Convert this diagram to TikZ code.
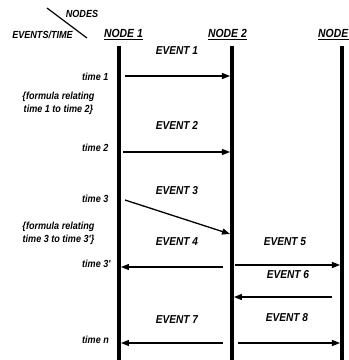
\documentclass[tikz,border=0pt]{standalone}
\usepackage{fontspec}
\setmainfont{Liberation Sans}
\newfontfamily\narrowsans[FakeStretch=0.88]{Liberation Sans}
\usetikzlibrary{arrows.meta}
\begin{document}
\begin{tikzpicture}[x=1pt,y=-1pt,
  lbl/.style={font=\narrowsans\bfseries\itshape\fontsize{11.5}{13}\selectfont, inner sep=0pt},
  hdr/.style={font=\narrowsans\bfseries\itshape\fontsize{11.8}{13}\selectfont, inner sep=0pt},
  small/.style={font=\narrowsans\bfseries\itshape\fontsize{10.3}{13}\selectfont, inner sep=0pt},
  life/.style={line width=4pt},
  msg/.style={line width=1.3pt, -{Triangle[length=8pt,width=6pt]}},
  uline/.style={line width=1pt}]
\useasboundingbox (0,0) rectangle (349,360);
\clip (0,0) rectangle (349,360);
% header
\node[small] (nodes) at (82,14) {NODES};
\node[small] (evt) at (42.5,35) {EVENTS/TIME};
\coordinate (d1) at (47,8);
\coordinate (d2) at (87,38);
\draw[line width=1.2pt] (d1) -- (d2);
\node[hdr] (h1) at (123.5,33) {NODE 1};
\node[hdr] (h2) at (227.5,33) {NODE 2};
\node[hdr, anchor=west] (h3) at (318,33) {NODE};
\draw[uline] ([yshift=-2.5pt]h1.south west) -- ([yshift=-2.5pt]h1.south east);
\draw[uline] ([yshift=-2.5pt]h2.south west) -- ([yshift=-2.5pt]h2.south east);
\coordinate (u3e) at (349,0);
\draw[uline] ([yshift=-2.5pt]h3.south west) -- ([yshift=-2.5pt]h3.south west -| u3e);
% lifelines
\coordinate (l1t) at (119,46); \coordinate (l1b) at (119,360);
\coordinate (l2t) at (232,46); \coordinate (l2b) at (232,360);
\coordinate (l3t) at (342,46); \coordinate (l3b) at (342,360);
\draw[life] (l1t) -- (l1b);
\draw[life] (l2t) -- (l2b);
\draw[life] (l3t) -- (l3b);
% time labels
\node[small, anchor=west] (t1) at (82,77) {time 1};
\node[small, align=center] (f1) at (58.5,103.5) {\{formula relating\\time 1 to time 2\}};
\node[small, anchor=west] (t2) at (82,148) {time 2};
\node[small, anchor=west] (t3) at (82,199) {time 3};
\node[small, align=center] (f2) at (58.5,233.5) {\{formula relating\\time 3 to time 3'\}};
\node[small, anchor=west] (t3p) at (82,264) {time 3'};
\node[small, anchor=west] (tn) at (82,340) {time n};
% event labels
\node[lbl] (e1) at (177,51) {EVENT 1};
\node[lbl] (e2) at (177,125) {EVENT 2};
\node[lbl] (e3) at (177,191) {EVENT 3};
\node[lbl] (e4) at (177,242) {EVENT 4};
\node[lbl] (e5) at (285,242) {EVENT 5};
\node[lbl] (e6) at (288,275) {EVENT 6};
\node[lbl] (e7) at (177,320) {EVENT 7};
\node[lbl] (e8) at (287,318) {EVENT 8};
% arrows
\coordinate (a1s) at (125,76);  \coordinate (a1e) at (230,76);
\coordinate (a2s) at (123,152); \coordinate (a2e) at (230,152);
\coordinate (a3s) at (125,200); \coordinate (a3e) at (230,234);
\coordinate (a4s) at (223,267); \coordinate (a4e) at (121,267);
\coordinate (a5s) at (235,265); \coordinate (a5e) at (340,265);
\coordinate (a6s) at (332,297); \coordinate (a6e) at (234,297);
\coordinate (a7s) at (223,343); \coordinate (a7e) at (121,343);
\coordinate (a8s) at (238,343); \coordinate (a8e) at (340,343);
\draw[msg] (a1s) -- (a1e);
\draw[msg] (a2s) -- (a2e);
\draw[msg] (a3s) -- (a3e);
\draw[msg] (a4s) -- (a4e);
\draw[msg] (a5s) -- (a5e);
\draw[msg] (a6s) -- (a6e);
\draw[msg] (a7s) -- (a7e);
\draw[msg] (a8s) -- (a8e);
\end{tikzpicture}
\end{document}
